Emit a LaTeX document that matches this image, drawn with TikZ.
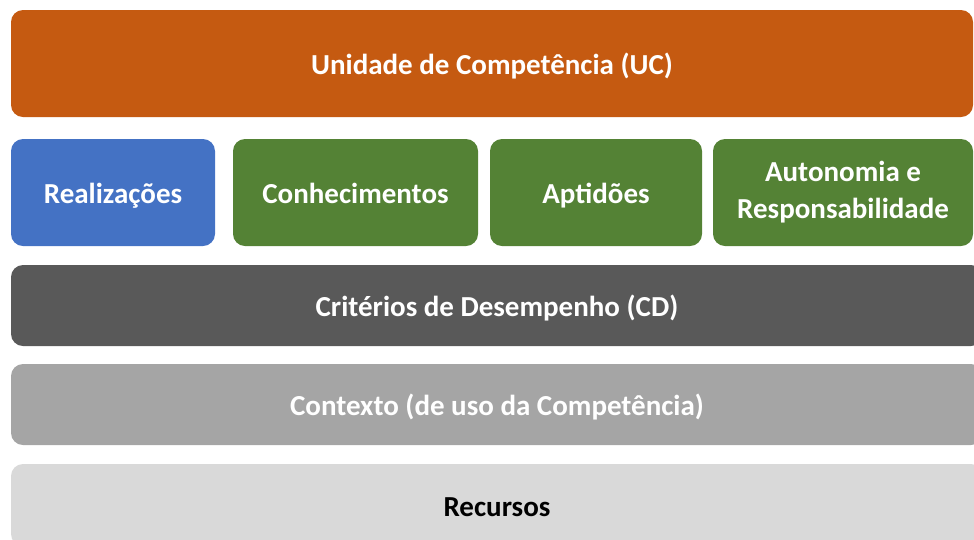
\documentclass[tikz,border=0pt]{standalone}
\usepackage{fontspec}
\setmainfont{Carlito}
\usepackage{tikz}

\definecolor{ucorange}{HTML}{C55A11}
\definecolor{realblue}{HTML}{4472C4}
\definecolor{kgreen}{HTML}{548235}
\definecolor{cddark}{HTML}{595959}
\definecolor{ctxgrey}{HTML}{A5A5A5}
\definecolor{reclight}{HTML}{D9D9D9}

\begin{document}
\begin{tikzpicture}[x=1pt, y=-1pt,
    layer/.style 2 args={
        rounded corners=12pt, fill=#1, text=#2,
        minimum height=81pt, inner sep=0pt,
        text height=24pt, text depth=2pt,
        font=\fontsize{29}{37}\selectfont\bfseries
    },
    tile/.style={
        layer={kgreen}{white}, minimum height=107pt, align=center
    }
]
\useasboundingbox (0,0) rectangle (974,539);
\node[layer={ucorange}{white}, minimum width=962pt, minimum height=107pt] (uc) at (492,63.5) {Unidade de Compet\^encia (UC)};
\node[layer={realblue}{white}, minimum width=204pt, minimum height=107pt] (real) at (113,192.5) {Realiza\c{c}\~oes};
\node[tile, minimum width=245pt] (conh) at (355.5,192.5) {Conhecimentos};
\node[tile, minimum width=212pt] (apt) at (596,192.5) {Aptid\~oes};
\node[tile, minimum width=260pt, text height=, text depth=] (auto) at (843,192.5) {Autonomia e\\Responsabilidade};
\node[layer={cddark}{white}, minimum width=972pt] (cd) at (497,305.5) {Crit\'erios de Desempenho (CD)};
\node[layer={ctxgrey}{white}, minimum width=972pt] (ctx) at (497,404.5) {Contexto (de uso da Compet\^encia)};
\node[layer={reclight}{black}, minimum width=972pt, minimum height=82pt] (rec) at (497,505) {Recursos};
\end{tikzpicture}
\end{document}
